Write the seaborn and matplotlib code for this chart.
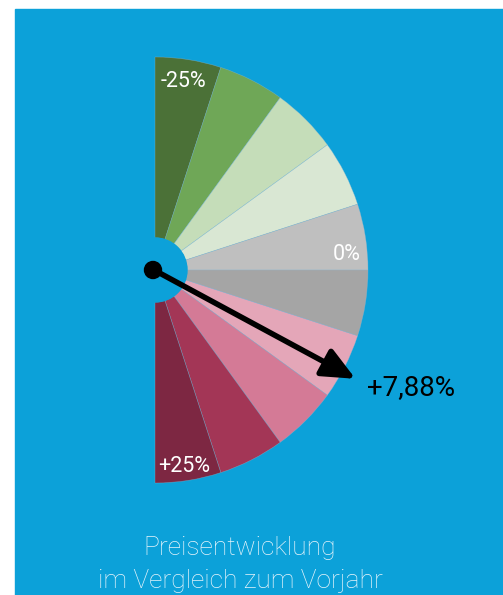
import numpy as np
import matplotlib
matplotlib.use("Agg")
import matplotlib.pyplot as plt
import seaborn as sns
from matplotlib.patches import Rectangle, Circle

sns.set_theme(style="white")
plt.rcParams['font.family'] = ['Roboto', 'DejaVu Sans']

# ---- data ----
band_lower = [-25, -20, -15, -10, -5, 0, 5, 10, 15, 20]
band_width = [5, 5, 5, 5, 5, 5, 5, 5, 5, 5]
band_colors = ["#4b7137", "#6fa757", "#c5ddb9", "#d9e7d3", "#bfbfbf",
               "#a5a5a5", "#e4a6b8", "#d47a96", "#a33656", "#7d2742"]
scale_labels = ["-25%", "0%", "+25%"]
value = 7.88
value_label = "+7,88%"
caption = "Preisentwicklung\nim Vergleich zum Vorjahr"

BLUE = "#0ca1d9"
W, H = 503, 595
fig = plt.figure(figsize=(W / 100, H / 100), dpi=100, facecolor="white")
ax = fig.add_axes([0, 0, 1, 1])
ax.add_patch(Rectangle((15, 0), W - 15, H - 9, color=BLUE, zorder=0))

cx, cy = 155, H - 270
R, r_in = 213, 32

# half gauge: 10 bands + invisible remainder (the left half)
vals = band_width + [sum(band_width)]
cols = band_colors + ["none"]
wedges, _ = ax.pie(vals, colors=cols, startangle=90, counterclock=False,
                   center=(cx, cy), radius=R, frame=True,
                   wedgeprops=dict(width=R - r_in,
                                   edgecolor=(0.55, 0.72, 0.82, 0.55),
                                   linewidth=0.4))
wedges[-1].set_edgecolor("none")
ax.set_xlim(0, W)
ax.set_ylim(0, H)
ax.set_aspect("equal")
ax.axis("off")
# inner hole in background blue
ax.add_patch(Circle((cx, cy), r_in, color=BLUE, zorder=3))

# scale labels
lab_kw = dict(color="white", fontsize=15.5, va="baseline", zorder=5)
ax.text(161, H - 87, scale_labels[0], ha="left", **lab_kw)
ax.text(361, H - 260, scale_labels[1], ha="right", **lab_kw)
ax.text(158, H - 472, scale_labels[2], ha="left", **lab_kw)

# needle
ang = np.deg2rad(-value / 25 * 90)
L = 229
tip = (cx - 1 + L * np.cos(ang), cy + L * np.sin(ang))
ax.annotate("", xy=tip, xytext=(cx - 1, cy),
            arrowprops=dict(arrowstyle="-|>,head_length=1.0,head_width=0.45",
                            lw=4, color="black", mutation_scale=20,
                            shrinkA=0, shrinkB=0), zorder=6)
ax.add_patch(Circle((cx - 2, cy), 8.5, color="black", zorder=7))
ax.text(367, H - 395, value_label, color="black", fontsize=20,
        ha="left", va="baseline", zorder=6)

# caption
cap_kw = dict(color="#e6f4fb", fontsize=19, fontweight="light",
              ha="center", va="baseline")
ax.text(240, H - 555, caption.split("\n")[0], **cap_kw)
ax.text(240, H - 588, caption.split("\n")[1], **cap_kw)

fig.savefig("out.png", dpi=100, facecolor="white")
